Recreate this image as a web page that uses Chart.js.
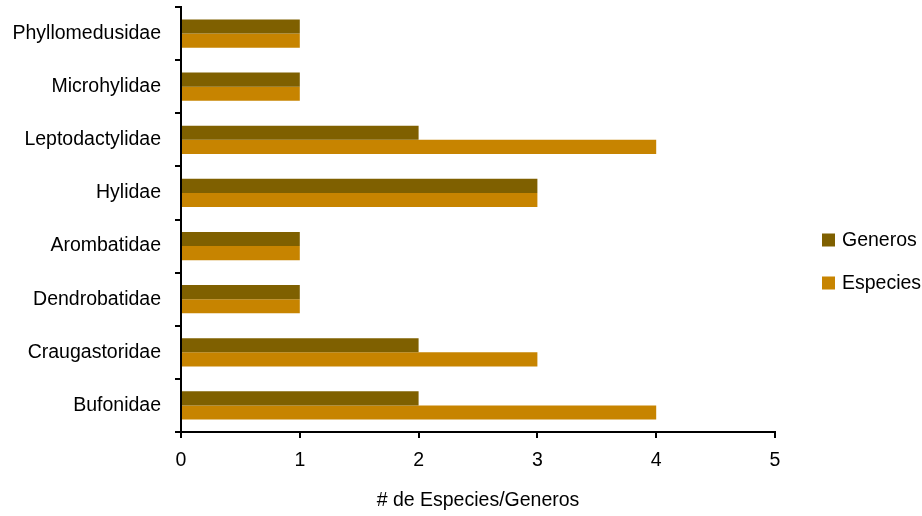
<!DOCTYPE html>
<html>
<head>
<meta charset="utf-8">
<script src="https://cdn.jsdelivr.net/npm/chart.js@4"></script>
<style>
  html, body { margin: 0; padding: 0; background: #fff; }
  #wrap { width: 922px; height: 516px; }
</style>
</head>
<body>
<div id="wrap"><canvas id="c"></canvas></div>
<script>
// families, top to bottom as in the figure
const familias = ['Phyllomedusidae', 'Microhylidae', 'Leptodactylidae', 'Hylidae',
  'Arombatidae', 'Dendrobatidae', 'Craugastoridae', 'Bufonidae'];
const generos = [1, 1, 2, 3, 1, 1, 2, 2];
const especies = [1, 1, 4, 3, 1, 1, 3, 4];
const xTicks = [0, 1, 2, 3, 4, 5];

const FONT = { family: '"Liberation Sans", Arial, sans-serif', size: 19.5 };

// legend on the right, drawn by hand so it sits where the original one does
const sideLegend = {
  id: 'sideLegend',
  afterDraw(chart) {
    const { ctx } = chart;
    ctx.save();
    ctx.font = '19.5px "Liberation Sans", Arial, sans-serif';
    ctx.textBaseline = 'middle';
    ctx.textAlign = 'left';
    chart.data.datasets.forEach((ds, i) => {
      const y = 240 + i * 43;
      ctx.fillStyle = ds.backgroundColor;
      ctx.fillRect(822, y - 6.5, 13, 13);
      ctx.fillStyle = '#000';
      ctx.fillText(ds.label, 842, y + 1);
    });
    ctx.restore();
  }
};

new Chart(document.getElementById('c'), {
  type: 'bar',
  data: {
    labels: familias,
    datasets: [
      { label: 'Generos', data: generos, backgroundColor: '#7f6000' },
      { label: 'Especies', data: especies, backgroundColor: '#c78400' }
    ]
  },
  options: {
    indexAxis: 'y',
    responsive: true,
    maintainAspectRatio: false,
    animation: false,
    categoryPercentage: 0.53,
    barPercentage: 1,
    layout: { padding: { top: 7, right: 147, left: 0, bottom: 0 } },
    plugins: {
      legend: { display: false },
      tooltip: { enabled: false }
    },
    scales: {
      y: {
        afterFit(s) { s.width = 181; s.paddingTop = 0; s.paddingBottom = 0; },
        grid: { drawOnChartArea: false, color: '#000', lineWidth: 2, tickLength: 6, offset: true },
        border: { color: '#000', width: 2 },
        ticks: { color: '#000', font: FONT, padding: 14 }
      },
      x: {
        min: 0,
        max: 5,
        afterFit(s) { s.height = 84; },
        afterBuildTicks(s) { s.ticks = xTicks.map(v => ({ value: v })); },
        grid: { drawOnChartArea: false, color: '#000', lineWidth: 2, tickLength: 6 },
        border: { color: '#000', width: 2 },
        ticks: { color: '#000', font: FONT, padding: 11 },
        title: { display: true, text: '# de Especies/Generos', color: '#000', font: FONT, padding: { top: 5 } }
      }
    }
  },
  plugins: [sideLegend]
});
</script>
</body>
</html>
